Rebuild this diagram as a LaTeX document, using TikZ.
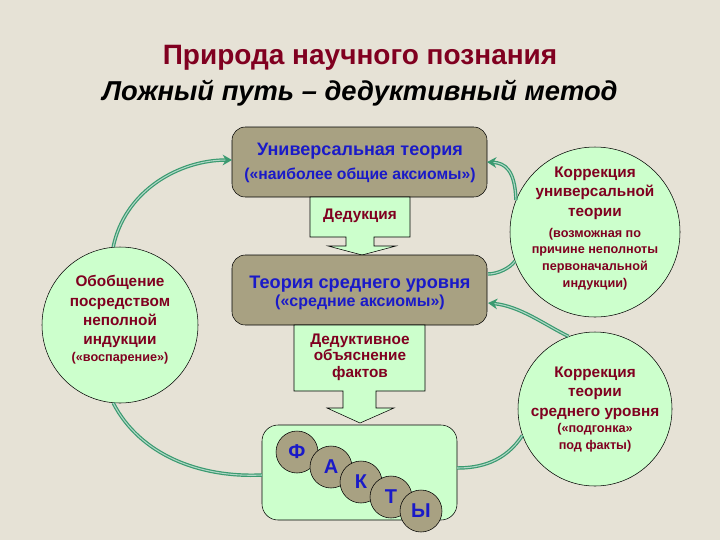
\documentclass[tikz,border=0pt]{standalone}
\usepackage{fontspec}
\setmainfont{Liberation Sans}
\usetikzlibrary{arrows.meta}
\definecolor{bg}{HTML}{E6E2D6}
\definecolor{olive}{HTML}{A8A182}
\definecolor{lgreen}{HTML}{CCFFCC}
\definecolor{dred}{HTML}{800020}
\definecolor{tblue}{HTML}{1A1AC8}
\definecolor{garc}{HTML}{3A9A70}
\tikzset{
  obox/.style={draw=black, fill=olive, rounded corners=10pt},
  circ/.style={draw=black, fill=lgreen, circle, inner sep=0pt},
  letter/.style={draw=black, fill=olive, circle, minimum size=42pt*0.75, inner sep=0pt, text=tblue, font=\bfseries\fontsize{15}{15}\selectfont},
  btxt/.style={text=tblue, font=\bfseries\fontsize{13.5}{15}\selectfont, align=center},
  rtxt/.style={text=dred, font=\bfseries\fontsize{11.5}{14.5}\selectfont, align=center},
  arc/.style={draw=garc, double=garc!40!white, double distance=0.8pt, line width=0.9pt},
  arcarrow/.style={arc, -{Stealth[length=7pt,width=8pt,fill=garc]}},
}
\begin{document}
\begin{tikzpicture}[x=0.75pt,y=-0.75pt]
\fill[bg] (0,0) rectangle (720,540);
\useasboundingbox (0,0) rectangle (720,540);
% titles
\node[text=dred, font=\bfseries\fontsize{21}{21}\selectfont] (t1) at (360,58) {Природа научного познания};
\node[text=black, font=\bfseries\itshape\fontsize{20.5}{21}\selectfont] (t2) at (360,93) {Ложный путь – дедуктивный метод};
% boxes
\draw[obox] (232,127) rectangle (487,197);
\coordinate (b1L) at (232,160); \coordinate (b1R) at (487,162);
\node[btxt] (u1) at (360,151) {Универсальная теория};
\node[btxt, font=\bfseries\fontsize{11.8}{13}\selectfont] (u2) at (360,175) {(«наиболее общие аксиомы»)};
% arrow 1
\draw[fill=lgreen] (310,197) -- (410,197) -- (410,237) -- (374,237) -- (374,246) -- (396,246) -- (362,255) -- (328,246) -- (346,246) -- (346,237) -- (310,237) -- cycle;
\node[rtxt] (ded) at (360,216) {Дедукция};
\draw[obox] (232,255) rectangle (487,325);
\coordinate (b2R) at (488,303); \coordinate (b2R2) at (488,274);
\node[btxt, font=\bfseries\fontsize{13.6}{16}\selectfont] (m1) at (360,284) {Теория среднего уровня};
\node[btxt, font=\bfseries\fontsize{12}{13}\selectfont] (m2) at (360,302) {(«средние аксиомы»)};
% arrow 2
\draw[fill=lgreen] (294,325) -- (425,325) -- (425,391) -- (376,391) -- (376,408) -- (394,408) -- (360,423) -- (327,408) -- (343,408) -- (343,391) -- (294,391) -- cycle;
\node[rtxt, font=\bfseries\fontsize{11.5}{12.5}\selectfont] (dex) at (360,357) {Дедуктивное\\объяснение\\фактов};
% facts box
\draw[fill=lgreen, rounded corners=12pt] (262,425) rectangle (457,520);
\coordinate (fL) at (262,475); \coordinate (fR) at (457,468);
\node[letter] (f1) at (297,452) {Ф};
\node[letter] (f2) at (331,467) {А};
\node[letter] (f3) at (361,482) {К};
\node[letter] (f4) at (391,497) {Т};
\node[letter] (f5) at (421,511) {Ы};
% circles
\node[circ, minimum size=156*0.75pt] (cl) at (120,325) {};
\node[rtxt, font=\bfseries\fontsize{11.5}{14.5}\selectfont] (clt) at (120,320) {Обобщение\\посредством\\неполной\\индукции\\[-2pt]{\fontsize{9.5}{10}\selectfont («воспарение»)}};
\node[circ, minimum size=170*0.75pt] (cr1) at (595,232) {};
\node[rtxt] (cr1t) at (595,193) {Коррекция\\универсальной\\теории};
\node[rtxt, font=\bfseries\fontsize{9.5}{12.5}\selectfont] (cr1s) at (595,259) {(возможная по\\причине неполноты\\первоначальной\\индукции)};
\node[circ, minimum size=154*0.75pt] (cr2) at (595,409) {};
\node[rtxt, font=\bfseries\fontsize{11.5}{14.5}\selectfont] (cr2t) at (595,393) {Коррекция\\теории\\среднего уровня};
\node[rtxt, font=\bfseries\fontsize{9.5}{12.5}\selectfont] (cr2s) at (595,438) {(«подгонка»\\под факты)};
% arcs
\draw[arcarrow] (cl.95) .. controls (125,190) and (180,160) .. (b1L);
\draw[arc] (cl.265) .. controls (140,455) and (200,478) .. (fL);
\draw[arc] (fR) .. controls (480,468) and (505,462) .. (cr2.200);
\draw[arcarrow] (cr2.110) .. controls (545,325) and (520,306) .. (b2R);
\draw[arc] (cr1.200) .. controls (510,268) and (498,274) .. (b2R2);
\draw[arcarrow] (cr1.158) .. controls (515,170) and (505,163) .. (b1R);
\end{tikzpicture}
\end{document}
